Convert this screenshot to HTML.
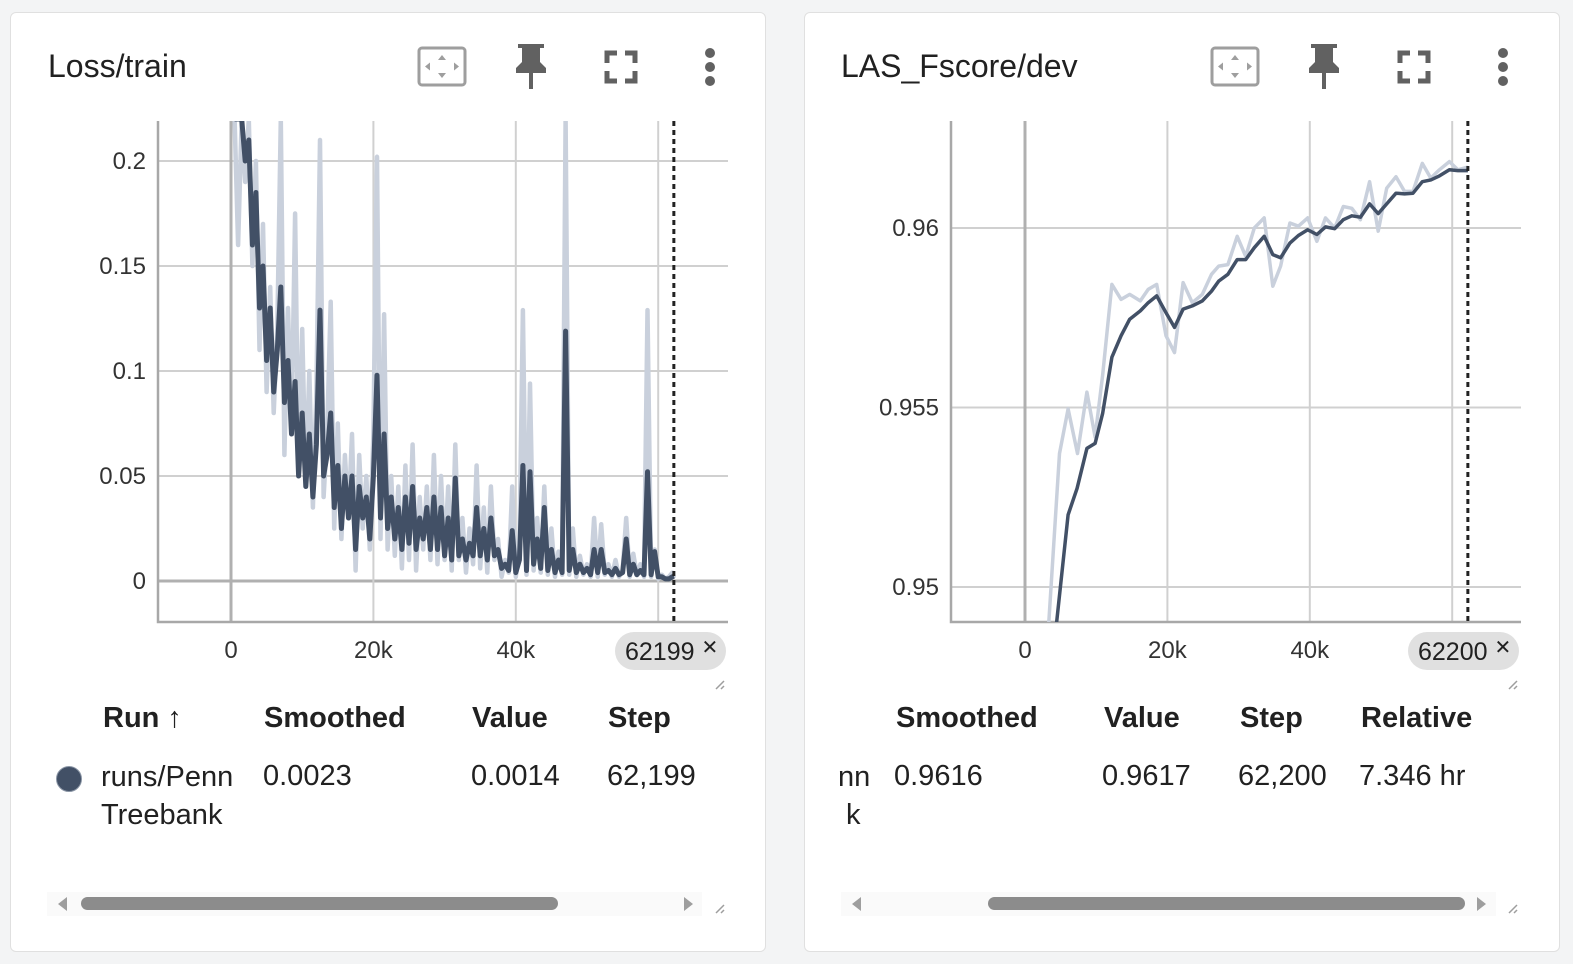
<!DOCTYPE html>
<html><head><meta charset="utf-8">
<style>
body{margin:0;width:1573px;height:964px;background:#f3f4f5;font-family:"Liberation Sans",sans-serif;position:relative;overflow:hidden;color:#212121}
.card{position:absolute;top:12px;height:938px;background:#fff;border:1px solid #e0e0e0;border-radius:6px}
.abs{position:absolute}
.title{font-size:32px;top:48px;color:#212121}
.hdr{font-size:29px;font-weight:bold;top:702px}
.cell{font-size:29px;top:760px}
.pill{position:absolute;top:632px;height:38px;background:#e0e0e0;border-radius:19px;font-size:25px;line-height:40px;padding:0 8px 0 10px}
.sb{position:absolute;top:892px;height:24px;background:#fafafa}
.thumb{position:absolute;top:897px;height:13px;background:#8c8c8c;border-radius:7px}
</style></head><body>
<div class="card" style="left:10px;width:754px"></div>
<div class="card" style="left:804px;width:754px"></div>

<div class="abs title" style="left:48px">Loss/train</div>
<div class="abs title" style="left:841px">LAS_Fscore/dev</div>

<svg class="abs" style="left:0;top:0" width="1573" height="964">
  <g transform="translate(418,47)">
    <rect x="1" y="1" width="46" height="37" rx="3" fill="none" stroke="#9e9e9e" stroke-width="3"/>
    <path d="M24 8 l-4 5 h8z M24 31 l-4 -5 h8z M7 19.5 l5 -4 v8z M41 19.5 l-5 -4 v8z" fill="#9e9e9e"/>
  </g>
  <g transform="translate(514,44)" fill="#616161">
    <path d="M4 0 h26 v4 h-4 v14 l6 6 v5 h-30 v-5 l6 -6 v-14 h-4z"/><rect x="15" y="28" width="4" height="17"/>
  </g>
  <g transform="translate(605,51)" fill="none" stroke="#616161" stroke-width="5">
    <path d="M2 12 V2 H12 M20 2 H30 V12 M30 20 V30 H20 M12 30 H2 V20"/>
  </g>
  <g fill="#616161"><circle cx="710" cy="53" r="5"/><circle cx="710" cy="67" r="5"/><circle cx="710" cy="81" r="5"/></g>

  <g transform="translate(1211,47)">
    <rect x="1" y="1" width="46" height="37" rx="3" fill="none" stroke="#9e9e9e" stroke-width="3"/>
    <path d="M24 8 l-4 5 h8z M24 31 l-4 -5 h8z M7 19.5 l5 -4 v8z M41 19.5 l-5 -4 v8z" fill="#9e9e9e"/>
  </g>
  <g transform="translate(1307,44)" fill="#616161">
    <path d="M4 0 h26 v4 h-4 v14 l6 6 v5 h-30 v-5 l6 -6 v-14 h-4z"/><rect x="15" y="28" width="4" height="17"/>
  </g>
  <g transform="translate(1398,51)" fill="none" stroke="#616161" stroke-width="5">
    <path d="M2 12 V2 H12 M20 2 H30 V12 M30 20 V30 H20 M12 30 H2 V20"/>
  </g>
  <g fill="#616161"><circle cx="1503" cy="53" r="5"/><circle cx="1503" cy="67" r="5"/><circle cx="1503" cy="81" r="5"/></g>

  <g stroke="#9e9e9e" stroke-width="1.5">
    <path d="M716 689 l8 -8 M721 689 l3 -3"/><path d="M1509 689 l8 -8 M1514 689 l3 -3"/>
    <path d="M716 913 l8 -8 M721 913 l3 -3"/><path d="M1509 913 l8 -8 M1514 913 l3 -3"/>
  </g>
</svg>

<svg id="chartL" class="abs" style="left:0;top:0" width="780" height="700"></svg>
<svg id="chartR" class="abs" style="left:0;top:0" width="1573" height="700"></svg>

<div class="pill" style="left:615px">62199 <span style="font-size:20px;vertical-align:top;position:relative;top:-4px">✕</span></div>
<div class="pill" style="left:1408px">62200 <span style="font-size:20px;vertical-align:top;position:relative;top:-4px">✕</span></div>

<div class="abs hdr" style="left:103px">Run ↑</div>
<div class="abs hdr" style="left:264px">Smoothed</div>
<div class="abs hdr" style="left:472px">Value</div>
<div class="abs hdr" style="left:608px">Step</div>
<div class="abs" style="left:56px;top:766px;width:24px;height:24px;border-radius:50%;background:#425066;border:1.5px solid #8a95a5"></div>
<div class="abs cell" style="left:101px;line-height:38px;top:758px">runs/Penn<br>Treebank</div>
<div class="abs cell" style="left:263px">0.0023</div>
<div class="abs cell" style="left:471px">0.0014</div>
<div class="abs cell" style="left:607px">62,199</div>

<div class="abs hdr" style="left:896px">Smoothed</div>
<div class="abs hdr" style="left:1104px">Value</div>
<div class="abs hdr" style="left:1240px">Step</div>
<div class="abs hdr" style="left:1361px">Relative</div>
<div class="abs cell" style="left:838px;line-height:38px;top:758px">nn<br>&nbsp;k</div>
<div class="abs cell" style="left:894px">0.9616</div>
<div class="abs cell" style="left:1102px">0.9617</div>
<div class="abs cell" style="left:1238px">62,200</div>
<div class="abs cell" style="left:1359px">7.346 hr</div>

<div class="sb" style="left:47px;width:655px"></div>
<div class="thumb" style="left:81px;width:477px"></div>
<div class="abs" style="left:58px;top:897px;width:0;height:0;border-top:7px solid transparent;border-bottom:7px solid transparent;border-right:9px solid #9e9e9e"></div>
<div class="abs" style="left:684px;top:897px;width:0;height:0;border-top:7px solid transparent;border-bottom:7px solid transparent;border-left:9px solid #9e9e9e"></div>
<div class="sb" style="left:841px;width:655px"></div>
<div class="thumb" style="left:988px;width:477px"></div>
<div class="abs" style="left:852px;top:897px;width:0;height:0;border-top:7px solid transparent;border-bottom:7px solid transparent;border-right:9px solid #9e9e9e"></div>
<div class="abs" style="left:1477px;top:897px;width:0;height:0;border-top:7px solid transparent;border-bottom:7px solid transparent;border-left:9px solid #9e9e9e"></div>

<script>
// ---- Loss/train data (steps in thousands) ----
const lossSteps = [0.5,1,1.5,2,2.5,3,3.5,4,4.5,5,5.5,6,6.5,7,7.5,8,8.5,9,9.5,10,10.5,11,11.5,12,12.5,13,13.5,14,14.5,15,15.5,16,16.5,17,17.5,18,18.5,19,19.5,20,20.5,21,21.5,22,22.5,23,23.5,24,24.5,25,25.5,26,26.5,27,27.5,28,28.5,29,29.5,30,30.5,31,31.5,32,32.5,33,33.5,34,34.5,35,35.5,36,36.5,37,37.5,38,38.5,39,39.5,40,40.5,41,41.5,42,42.5,43,43.5,44,44.5,45,45.5,46,46.5,47,47.5,48,48.5,49,49.5,50,50.5,51,51.5,52,52.5,53,53.5,54,54.5,55,55.5,56,56.5,57,57.5,58,58.5,59,59.5,60,60.5,61,61.5,62,62.2];
const lossRaw = [0.22,0.16,0.22,0.19,0.22,0.15,0.20,0.11,0.17,0.09,0.14,0.08,0.12,0.22,0.06,0.13,0.07,0.175,0.05,0.12,0.045,0.10,0.035,0.09,0.21,0.04,0.07,0.133,0.025,0.075,0.02,0.06,0.03,0.07,0.005,0.06,0.025,0.05,0.015,0.07,0.202,0.02,0.127,0.015,0.05,0.012,0.045,0.006,0.055,0.01,0.065,0.005,0.04,0.015,0.045,0.01,0.06,0.008,0.05,0.01,0.045,0.005,0.065,0.01,0.03,0.004,0.025,0.008,0.055,0.006,0.035,0.004,0.045,0.01,0.02,0.002,0.01,0.004,0.045,0.002,0.015,0.129,0.003,0.094,0.005,0.03,0.004,0.045,0.003,0.025,0.002,0.014,0.003,0.22,0.003,0.025,0.002,0.012,0.003,0.008,0.002,0.03,0.002,0.027,0.003,0.008,0.002,0.01,0.002,0.005,0.03,0.002,0.013,0.003,0.008,0.002,0.129,0.002,0.015,0.001,0.003,0.001,0.002,0.004,0.0014];
const lossSmooth = [0.22,0.22,0.22,0.20,0.21,0.16,0.185,0.13,0.15,0.105,0.13,0.09,0.11,0.14,0.085,0.105,0.07,0.095,0.05,0.08,0.045,0.07,0.04,0.065,0.129,0.05,0.06,0.08,0.035,0.055,0.025,0.05,0.03,0.05,0.015,0.045,0.03,0.04,0.02,0.05,0.098,0.03,0.07,0.025,0.04,0.02,0.035,0.015,0.04,0.018,0.045,0.015,0.03,0.02,0.035,0.015,0.04,0.015,0.035,0.012,0.03,0.01,0.049,0.012,0.02,0.01,0.018,0.012,0.035,0.012,0.025,0.01,0.03,0.012,0.015,0.006,0.008,0.005,0.024,0.004,0.01,0.055,0.005,0.052,0.008,0.02,0.006,0.035,0.005,0.015,0.004,0.01,0.004,0.119,0.005,0.015,0.004,0.008,0.004,0.006,0.003,0.015,0.004,0.015,0.004,0.005,0.003,0.006,0.003,0.004,0.02,0.003,0.008,0.003,0.005,0.003,0.052,0.003,0.014,0.002,0.002,0.001,0.001,0.002,0.0023];
const lossYTicks = [0,0.05,0.1,0.15,0.2];
const lossYLabels = ["0","0.05","0.1","0.15","0.2"];
const xTicks = [0,20,40,60];
const xLabels = ["0","20k","40k",""];

// ---- LAS_Fscore/dev data ----
const lasRawSteps = [3.27,4.85,6.06,7.37,8.69,9.85,10.9,12.2,13.5,14.7,16.2,17.3,18.5,19.8,21.0,22.2,23.5,24.9,26.2,27.2,28.5,29.8,31.0,32.2,33.6,34.8,35.9,37.2,38.4,39.7,41.0,42.2,43.5,44.7,45.9,47.1,48.4,49.6,50.8,52.1,53.3,54.5,55.8,57.0,58.2,59.6,60.8,62.2];
const lasRaw = [0.9488,0.95372,0.95496,0.95372,0.95543,0.95418,0.95589,0.95843,0.95801,0.95815,0.95797,0.95829,0.95843,0.95700,0.95653,0.95848,0.95792,0.95815,0.95871,0.95894,0.95898,0.95977,0.95921,0.9600,0.96028,0.95838,0.95894,0.96014,0.96005,0.96028,0.95963,0.96028,0.9600,0.9606,0.96055,0.96023,0.96129,0.95991,0.96111,0.96143,0.96102,0.96102,0.9618,0.96139,0.96162,0.96185,0.96162,0.9617];
const lasSmoothSteps = [4.32,6.06,7.32,8.69,9.85,10.9,12.2,13.5,14.7,16.2,17.3,18.5,19.8,21.0,22.2,23.5,24.9,26.2,27.2,28.5,29.8,31.0,32.2,33.6,34.8,35.9,37.2,38.4,39.7,41.0,42.2,43.5,44.7,45.9,47.1,48.4,49.6,50.8,52.1,53.3,54.5,55.8,57.0,58.2,59.6,60.8,62.2];
const lasSmooth = [0.9488,0.95201,0.95275,0.95386,0.9540,0.95483,0.9564,0.9570,0.95746,0.95769,0.95792,0.95811,0.95764,0.95723,0.95774,0.95783,0.95797,0.95824,0.95852,0.95871,0.95912,0.95912,0.95945,0.95977,0.95926,0.95917,0.95958,0.95979,0.95995,0.95982,0.96003,0.95998,0.96023,0.96034,0.9603,0.96067,0.9604,0.96067,0.96097,0.96095,0.96097,0.96129,0.96134,0.96145,0.96162,0.9616,0.9616];
const lasYTicks = [0.95,0.955,0.96];
const lasYLabels = ["0.95","0.955","0.96"];

const NS="http://www.w3.org/2000/svg";
function mk(parent,tag,attrs){const e=document.createElementNS(NS,tag);for(const k in attrs)e.setAttribute(k,attrs[k]);parent.appendChild(e);return e;}

function drawChart(svg,cfg){
  const {left,right,top,bottom,x0,pxPerK,yScale,yTicks,yLabels,series,cursor,prefix,zeroY}=cfg;
  const xs=k=>x0+k*pxPerK;
  const clip=mk(svg,'clipPath',{id:prefix+'clip'});
  mk(clip,'rect',{x:left,y:top,width:right-left,height:bottom-top});
  yTicks.forEach((v,i)=>{
    const y=yScale(v);
    if(y<top-1||y>bottom+1) return;
    const g=mk(svg,'line',{x1:left,x2:right,y1:y,y2:y,stroke:(zeroY&&v===0)?'#b0b0b0':'#d0d0d0','stroke-width':(zeroY&&v===0)?3:2});
    
    
    const t=mk(svg,'text',{x:left-12,y:y+8,'text-anchor':'end','font-size':24,fill:'#333','font-family':'Liberation Sans, sans-serif'});
    t.textContent=yLabels[i];
    
    
  });
  xTicks.forEach((k,i)=>{
    const x=xs(k);
    const g=mk(svg,'line',{x1:x,x2:x,y1:top,y2:bottom,stroke:k===0?'#b0b0b0':'#d0d0d0','stroke-width':k===0?3:2});
    
    
    if(xLabels[i]){
      const t=mk(svg,'text',{x:x,y:bottom+36,'text-anchor':'middle','font-size':24,fill:'#333','font-family':'Liberation Sans, sans-serif'});
      t.textContent=xLabels[i];
      
      
    }
  });
  const ax=mk(svg,'path',{d:`M${left} ${top} V${bottom} H${right}`,fill:'none',stroke:'#a8a8a8','stroke-width':2.5});
  
  
  series.forEach(s=>{
    const d=s.steps.map((k,i)=>(i?'L':'M')+xs(k).toFixed(1)+' '+yScale(s.vals[i]).toFixed(1)).join(' ');
    const p=mk(svg,'path',{d:d,fill:'none',stroke:s.color,'stroke-width':s.w,'stroke-linejoin':'round','clip-path':`url(#${prefix}clip)`});
    
    
  });
  const cx=xs(cursor);
  const c=mk(svg,'line',{x1:cx,x2:cx,y1:top,y2:bottom,stroke:'#222','stroke-width':3,'stroke-dasharray':'5,4'});
  
  
}

drawChart(document.getElementById('chartL'),{
  left:158,right:728,top:121,bottom:622,x0:231,pxPerK:7.12,prefix:'L',zeroY:true,
  yScale:v=>581-v*2100,yTicks:lossYTicks,yLabels:lossYLabels,cursor:62.199,
  series:[{name:'loss-raw-line',steps:lossSteps,vals:lossRaw,color:'#c9d0dc',w:4.5},
          {name:'loss-smoothed-line',steps:lossSteps,vals:lossSmooth,color:'#425066',w:5}]
});
drawChart(document.getElementById('chartR'),{
  left:951,right:1521,top:121,bottom:622,x0:1025,pxPerK:7.12,prefix:'R',zeroY:false,
  yScale:v=>228-(v-0.96)*35900,yTicks:lasYTicks,yLabels:lasYLabels,cursor:62.2,
  series:[{name:'las-raw-line',steps:lasRawSteps,vals:lasRaw,color:'#c9d0dc',w:3.5},
          {name:'las-smoothed-line',steps:lasSmoothSteps,vals:lasSmooth,color:'#425066',w:3.5}]
});
</script>
</body></html>
